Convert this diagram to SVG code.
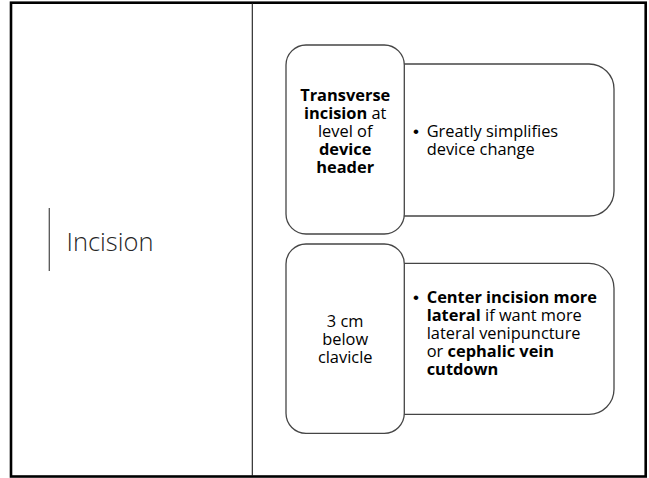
<svg xmlns="http://www.w3.org/2000/svg" width="649" height="478" viewBox="0 0 649 478">
  <style>
    .frame { fill: #ffffff; stroke: #000000; stroke-width: 2.6; }
    .divider { stroke: #1a1a1a; stroke-width: 1.1; }
    .accent { stroke: #555555; stroke-width: 1.3; }
    .box { fill: #ffffff; stroke: #454545; stroke-width: 1.3; }
    .title { font-family: "Open Sans", "Liberation Sans", sans-serif; font-weight: 300; font-size: 25.5px; fill: #262626; }
    .t { font-family: "Open Sans", "Liberation Sans", sans-serif; font-size: 16.4px; fill: #000000; }
    .dot { font-family: "Liberation Sans", sans-serif; font-size: 17px; fill: #000000; }
    .c { text-anchor: middle; }
    .b { font-weight: 700; }
  </style>

  <!-- slide frame and column split -->
  <rect class="frame" x="11" y="2.7" width="634.7" height="473.8"/>
  <line class="divider" x1="252.3" y1="3" x2="252.3" y2="476"/>

  <!-- section heading -->
  <g id="heading">
    <line class="accent" x1="49.3" y1="208" x2="49.3" y2="271"/>
    <text class="title" x="66.5" y="250.5">Incision</text>
  </g>

  <!-- row 1 -->
  <g id="detail-1">
    <rect class="box" x="380" y="64" width="234" height="152" rx="25" ry="25"/>
    <text class="dot" x="413" y="137.3">•</text>
    <text class="t" x="426.7" y="137.3">Greatly simplifies<tspan x="426.7" dy="18">device change</tspan></text>
  </g>
  <g id="step-1">
    <rect class="box" x="286" y="45" width="118.3" height="189" rx="20" ry="20"/>
    <text class="t c" x="345.2" y="101"><tspan class="b">Transverse</tspan><tspan x="345.2" dy="18.1" class="b">incision</tspan> at<tspan x="345.2" dy="18.1">level of</tspan><tspan x="345.2" dy="18.1" class="b">device</tspan><tspan x="345.2" dy="18.1" class="b">header</tspan></text>
  </g>

  <!-- row 2 -->
  <g id="detail-2">
    <rect class="box" x="380" y="263.3" width="234" height="151" rx="25" ry="25"/>
    <text class="dot" x="413" y="302.7">•</text>
    <text class="t" x="426.7" y="302.7"><tspan class="b">Center incision more</tspan><tspan x="426.7" dy="18.15" class="b">lateral</tspan> if want more<tspan x="426.7" dy="18.15">lateral venipuncture</tspan><tspan x="426.7" dy="18.15">or </tspan><tspan class="b">cephalic vein</tspan><tspan x="426.7" dy="18.15" class="b">cutdown</tspan></text>
  </g>
  <g id="step-2">
    <rect class="box" x="286" y="244" width="118.3" height="189.3" rx="20" ry="20"/>
    <text class="t c" x="345.2" y="327.3">3 cm<tspan x="345.2" dy="18">below</tspan><tspan x="345.2" dy="18">clavicle</tspan></text>
  </g>

  <g id="connectors"/>
</svg>
